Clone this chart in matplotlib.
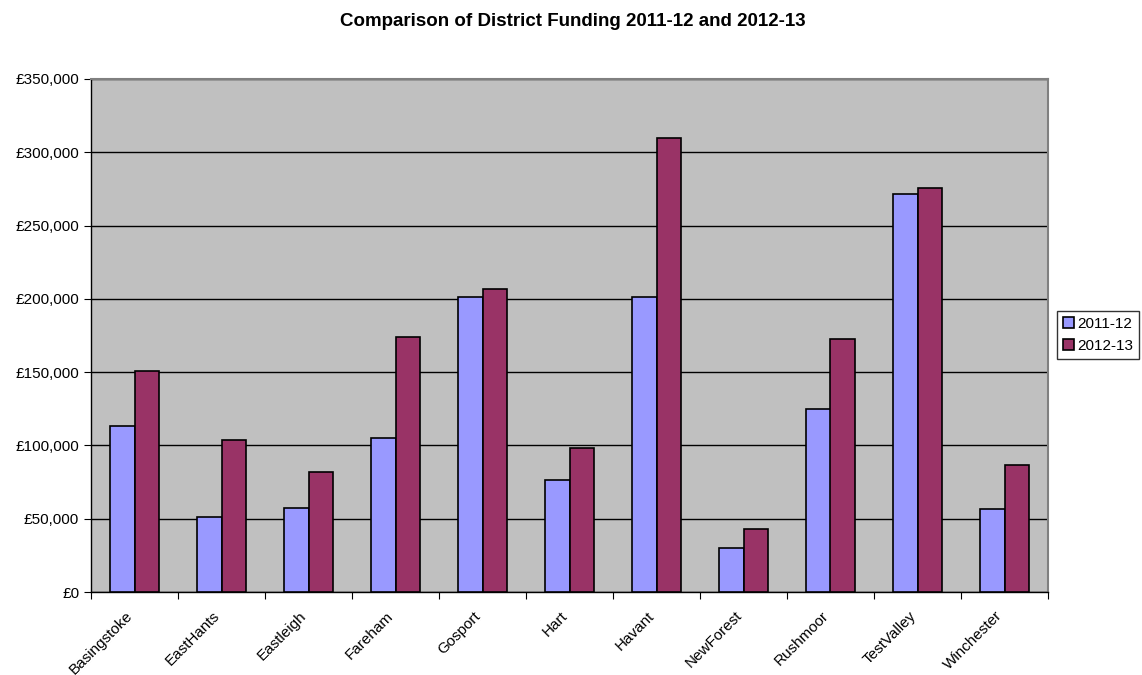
import matplotlib.pyplot as plt
import matplotlib.transforms as mtransforms
import numpy as np
from matplotlib.ticker import FuncFormatter

plt.rcParams['font.family'] = ['Liberation Sans', 'DejaVu Sans']

districts = ["Basingstoke", "EastHants", "Eastleigh", "Fareham", "Gosport", "Hart",
             "Havant", "NewForest", "Rushmoor", "TestValley", "Winchester"]
funding_2011 = [113000, 51500, 57000, 105300, 201500, 76600, 201500, 30000, 125100, 271300, 56400]
funding_2012 = [151000, 103700, 81700, 174200, 206700, 98200, 309500, 42800, 172400, 275600, 86600]
series_labels = ["2011-12", "2012-13"]

fig = plt.figure(figsize=(11.42, 6.75), dpi=100)
ax = fig.add_axes([91 / 1142, 1 - 592 / 675, (1048 - 91) / 1142, (592 - 79) / 675])

x = np.arange(len(districts))
width = 1 / 3.5
ax.bar(x - width / 2, funding_2011, width, color='#9999FF', edgecolor='black',
       linewidth=1.2, label=series_labels[0], zorder=3)
ax.bar(x + width / 2, funding_2012, width, color='#993366', edgecolor='black',
       linewidth=1.2, label=series_labels[1], zorder=3)

ax.set_facecolor('#C0C0C0')
ax.set_xlim(-0.5, len(districts) - 0.5)
ax.set_ylim(0, 350000)
ax.set_yticks(np.arange(0, 350001, 50000))
ax.yaxis.set_major_formatter(FuncFormatter(lambda v, p: "£{:,.0f}".format(v)))
ax.grid(axis='y', color='black', linewidth=1, zorder=1)

ax.set_xticks(np.arange(-0.5, len(districts), 1))
ax.set_xticklabels([])
ax.set_xticks(x, minor=True)
ax.set_xticklabels(districts, minor=True, rotation=45, ha='right', va='top',
                   rotation_mode='anchor', fontsize=11)
ax.tick_params(axis='x', which='minor', length=0, pad=12)
ax.tick_params(axis='x', which='major', length=5, direction='out', color='black')
ax.tick_params(axis='y', length=5, direction='out', labelsize=11, color='black')

# nudge the rotated labels left like the original
shift = mtransforms.ScaledTranslation(-9 / 100, 0, fig.dpi_scale_trans)
for lab in ax.get_xticklabels(minor=True):
    lab.set_transform(lab.get_transform() + shift)

for side in ['top', 'right']:
    ax.spines[side].set_color('#808080')
    ax.spines[side].set_linewidth(1.5)
for side in ['left', 'bottom']:
    ax.spines[side].set_color('black')
    ax.spines[side].set_linewidth(1)

fig.text(573 / 1142, 1 - 21 / 675, "Comparison of District Funding 2011-12 and 2012-13",
         ha='center', va='center', fontsize=13.5, fontweight='bold')

leg = fig.legend(loc='upper right', bbox_to_anchor=(1139 / 1142, 1 - 311 / 675),
                 fontsize=11, frameon=True, fancybox=False, edgecolor='black',
                 handlelength=0.7, handleheight=0.7, handletextpad=0.2,
                 borderpad=0.4, labelspacing=0.5, borderaxespad=0)
leg.get_frame().set_linewidth(1)

plt.savefig('out.png', dpi=100)
